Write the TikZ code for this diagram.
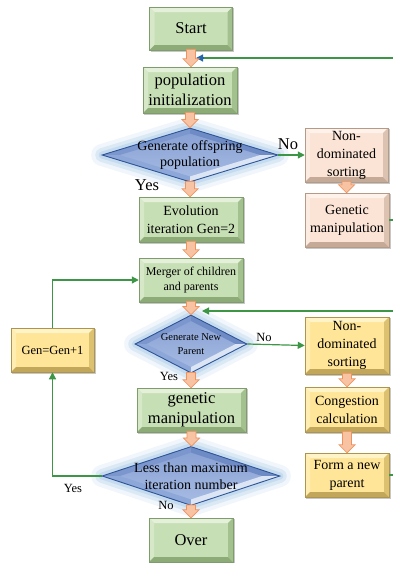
\documentclass[tikz,border=0pt]{standalone}
\usepackage{fontspec}
\setmainfont{Liberation Serif}
\usetikzlibrary{shapes.geometric,arrows.meta,calc,backgrounds}

% box palettes: face, bevel sides, outline
\definecolor{greenface}{HTML}{C7DFB5}
\definecolor{greentop}{HTML}{E4F0DA}
\definecolor{greenleft}{HTML}{D6E8C8}
\definecolor{greenright}{HTML}{A3C18E}
\definecolor{greenbottom}{HTML}{8CAB77}
\definecolor{greenedge}{HTML}{7F9C6C}
\definecolor{peachface}{HTML}{FBE4D5}
\definecolor{peachtop}{HTML}{FEF2EA}
\definecolor{peachleft}{HTML}{FCEBE0}
\definecolor{peachright}{HTML}{DCC2B1}
\definecolor{peachbottom}{HTML}{C6AA98}
\definecolor{peachedge}{HTML}{B59A88}
\definecolor{yellowface}{HTML}{FFE597}
\definecolor{yellowtop}{HTML}{FFF3C8}
\definecolor{yellowleft}{HTML}{FFEDB2}
\definecolor{yellowright}{HTML}{DCC170}
\definecolor{yellowbottom}{HTML}{C2A75B}
\definecolor{yellowedge}{HTML}{AD9550}
% decision palette
\definecolor{diatop}{HTML}{869FD3}
\definecolor{diabottom}{HTML}{A8BDE4}
\definecolor{diaTL}{HTML}{7C97CE}
\definecolor{diaTR}{HTML}{6F8BC6}
\definecolor{diaBL}{HTML}{8DA7D8}
\definecolor{diaBR}{HTML}{DCE5F4}
\definecolor{diaedge}{HTML}{2F5597}
\definecolor{glowblue}{HTML}{9DC3E6}
% connectors
\definecolor{linegreen}{HTML}{3C9646}
\definecolor{tipblue}{HTML}{2467A8}
\definecolor{arrowfill}{HTML}{F8C3A2}
\definecolor{arrowedge}{HTML}{F0925C}

\newcommand\fbig{\fontsize{16.5}{20}\selectfont}
\newcommand\fmid{\fontsize{14}{18}\selectfont}
\newcommand\fdia{\fontsize{14}{16.5}\selectfont}
\newcommand\fsmall{\fontsize{12}{15.5}\selectfont}
\newcommand\ftiny{\fontsize{10.5}{13.5}\selectfont}
\newcommand\flabel{\fontsize{12.5}{14}\selectfont}

% thick orange arrow from the bottom of one node to the top of the next
\newcommand\flowarrow[2]{%
  \path[oarr] let \p1=(#1.south), \p2=(#2.north) in
    (\x1-4.5pt,\y1+1pt) -- (\x1+4.5pt,\y1+1pt) -- (\x1+4.5pt,\y2+8pt)
    -- (\x1+8pt,\y2+8pt) -- (\x1,\y2) -- (\x1-8pt,\y2+8pt)
    -- (\x1-4.5pt,\y2+8pt) -- cycle;}

\tikzset{
  box/.style={rectangle, fill=#1face, draw=#1edge, line width=0.5pt,
    inner sep=0pt, align=center, text=black,
    path picture={
      \path (path picture bounding box.north west) coordinate (pnw)
            (path picture bounding box.north east) coordinate (pne)
            (path picture bounding box.south west) coordinate (psw)
            (path picture bounding box.south east) coordinate (pse);
      \fill[#1top] (pnw) -- (pne) -- ([shift={(-5pt,-5pt)}]pne)
        -- ([shift={(5pt,-5pt)}]pnw) -- cycle;
      \fill[#1left] (pnw) -- ([shift={(5pt,-5pt)}]pnw)
        -- ([shift={(5pt,5pt)}]psw) -- (psw) -- cycle;
      \fill[#1right] (pne) -- ([shift={(-5pt,-5pt)}]pne)
        -- ([shift={(-5pt,5pt)}]pse) -- (pse) -- cycle;
      \fill[#1bottom] (psw) -- ([shift={(5pt,5pt)}]psw)
        -- ([shift={(-5pt,5pt)}]pse) -- (pse) -- cycle;
    }},
  dia/.style={diamond, inner sep=0pt, draw=diaedge, line width=0.9pt,
    top color=diatop, bottom color=diabottom,
    preaction={draw=glowblue, line width=22pt, opacity=.15, line join=round},
    preaction={draw=glowblue, line width=14pt, opacity=.25, line join=round},
    preaction={draw=glowblue, line width=7pt, opacity=.35, line join=round},
    path picture={
      \path (path picture bounding box.center) coordinate (dc)
            (path picture bounding box.north) coordinate (dn)
            (path picture bounding box.south) coordinate (ds)
            (path picture bounding box.east) coordinate (de)
            (path picture bounding box.west) coordinate (dw);
      \fill[diaTL] (dw) -- (dn) -- ($(dc)!.8!(dn)$) -- ($(dc)!.8!(dw)$) -- cycle;
      \fill[diaTR] (dn) -- (de) -- ($(dc)!.8!(de)$) -- ($(dc)!.8!(dn)$) -- cycle;
      \fill[diaBL] (dw) -- (ds) -- ($(dc)!.8!(ds)$) -- ($(dc)!.8!(dw)$) -- cycle;
      \fill[diaBR] (ds) -- (de) -- ($(dc)!.8!(de)$) -- ($(dc)!.8!(ds)$) -- cycle;
    }},
  txt/.style={inner sep=0pt, align=center, text=black},
  oarr/.style={fill=arrowfill, draw=arrowedge, line width=0.7pt, line join=miter},
  gwire/.style={draw=linegreen, line width=1.2pt},
  gline/.style={gwire, -{Triangle[length=7pt,width=7pt]}},
}

\begin{document}
\begin{tikzpicture}[x=1pt,y=-1pt]
\useasboundingbox (0,0) rectangle (393,563);
\clip (0,0) rectangle (393,563);

% main column
\node[box=green, minimum width=83pt, minimum height=43pt, font=\fbig] (start) at (191,28.5) {Start};
\node[box=green, minimum width=94pt, minimum height=46pt, font=\fbig] (init) at (190,90) {population\\initialization};
\node[dia, minimum width=176pt, minimum height=54pt] (d1) at (190,155) {};
\node[txt, font=\fdia] (d1t) at (d1) {Generate offspring\\population};
\node[box=green, minimum width=104pt, minimum height=45pt, font=\fmid] (evo) at (191,219.5) {Evolution\\iteration Gen=2};
\node[box=green, minimum width=104pt, minimum height=44pt, font=\fsmall] (merge) at (191,280) {Merger of children\\and parents};
\node[dia, minimum width=112pt, minimum height=58pt] (d2) at (191,344) {};
\node[txt, font=\ftiny] (d2t) at (d2) {Generate New\\Parent};
\node[box=green, minimum width=109pt, minimum height=44pt, font=\fbig] (gm2) at (191.5,410) {genetic\\manipulation};
\node[dia, minimum width=178pt, minimum height=59pt] (d3) at (191,476) {};
\node[txt, font=\fdia] (d3t) at (d3) {Less than maximum\\iteration number};
\node[box=green, minimum width=84pt, minimum height=44pt, font=\fbig] (over) at (191,540) {Over};

% right column
\node[box=peach, minimum width=83pt, minimum height=54pt, font=\fmid] (nd1) at (346.5,155) {Non-\\dominated\\sorting};
\node[box=peach, minimum width=84pt, minimum height=54pt, font=\fmid] (gm1) at (347,220) {Genetic\\manipulation};
\node[box=yellow, minimum width=84pt, minimum height=57pt, font=\fmid] (nd2) at (347,345.5) {Non-\\dominated\\sorting};
\node[box=yellow, minimum width=84pt, minimum height=45pt, font=\fmid] (cong) at (347,409.5) {Congestion\\calculation};
\node[box=yellow, minimum width=84pt, minimum height=44pt, font=\fmid] (form) at (347,475) {Form a new\\parent};

% left column
\node[box=yellow, minimum width=83pt, minimum height=44pt, font=\flabel] (gen) at (52.5,350) {Gen=Gen+1};

% branch labels
\node[txt, font=\fbig] (yes1) at (147,185) {Yes};
\node[txt, font=\fbig] (no1) at (288,144) {No};
\node[txt, font=\flabel] (no2) at (264,337) {No};
\node[txt, font=\flabel] (yes2) at (169,376) {Yes};
\node[txt, font=\flabel] (yes3) at (73,488) {Yes};
\node[txt, font=\flabel] (no3) at (166,505) {No};

% return points on the main column
\coordinate (in1) at (196,58);
\coordinate (in1b) at (204,58);
\coordinate (in2) at (202,311);

% green connectors
\draw[gline] (d1.east) -- (nd1.west);
\draw[gwire] (gm1.east) -- (405,220) |- (in1b);
\draw[draw=tipblue, line width=1.2pt, -{Triangle[length=7pt,width=7pt]}] (in1b) -- (in1);
\draw[gline] (form.east) -- (405,475) |- (in2);
\draw[gline] (d2.east) -- (nd2.west);
\draw[gline] (d3.west) -| (gen.south);
\draw[gline] (gen.north) |- (merge.west);

% orange flow arrows
\flowarrow{start}{init}
\flowarrow{init}{d1}
\flowarrow{d1}{evo}
\flowarrow{evo}{merge}
\flowarrow{merge}{d2}
\flowarrow{d2}{gm2}
\flowarrow{gm2}{d3}
\flowarrow{d3}{over}
\flowarrow{nd1}{gm1}
\flowarrow{nd2}{cong}
\flowarrow{cong}{form}

% white page and soft shadows behind the boxes
\begin{scope}[on background layer]
  \fill[white] (0,0) rectangle (393,563);
  \foreach \n in {start,init,evo,merge,gm2,over,nd1,gm1,nd2,cong,form,gen}
    \fill[black, opacity=.22] ([shift={(1.5pt,-1.5pt)}]\n.south west) rectangle ([shift={(1.5pt,-1.5pt)}]\n.north east);
\end{scope}
\end{tikzpicture}
\end{document}
